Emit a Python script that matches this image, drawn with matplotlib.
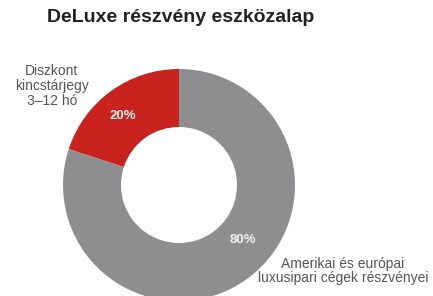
import matplotlib.pyplot as plt

title = "DeLuxe részvény eszközalap"
categories = ["Diszkont\nkincstárjegy\n3–12 hó", "Amerikai és európai\nluxusipari cégek részvényei"]
shares = [20, 80]
colors = ["#c8231f", "#8e8e90"]

W, H = 433, 296
plt.rcParams['font.family'] = ['Liberation Sans', 'DejaVu Sans']

fig = plt.figure(figsize=(W / 100, H / 100), dpi=100)
ax = fig.add_axes([0, 0, 1, 1])

# donut, positions in pixel units (y measured from the bottom)
cx, cy, r = 179, H - 185, 116
ax.pie(shares, colors=colors, startangle=90, counterclock=True,
       center=(cx, cy), radius=r, wedgeprops=dict(width=r * 0.5, linewidth=0))
ax.set_xlim(0, W)
ax.set_ylim(0, H)
ax.set_aspect('equal')
ax.axis('off')

# percent labels
pct_pos = [(123, 116), (243, 240)]
for val, (x, y) in zip(shares, pct_pos):
    ax.text(x, H - y, "{}%".format(val), color="#f2f2f2", fontsize=9.5,
            fontweight='bold', ha='center', va='center')

# category labels
ax.text(52, H - 86, categories[0], color="#555555", fontsize=10,
        ha='center', va='center', linespacing=1.12)
ax.text(343, H - 271, categories[1], color="#555555", fontsize=10,
        ha='center', va='center', linespacing=1.05)

fig.text(47 / W, 1 - 18 / H, title, fontsize=14, fontweight='bold',
         color="#222222", ha='left', va='center')

fig.savefig("out.png", dpi=100, facecolor='white')
